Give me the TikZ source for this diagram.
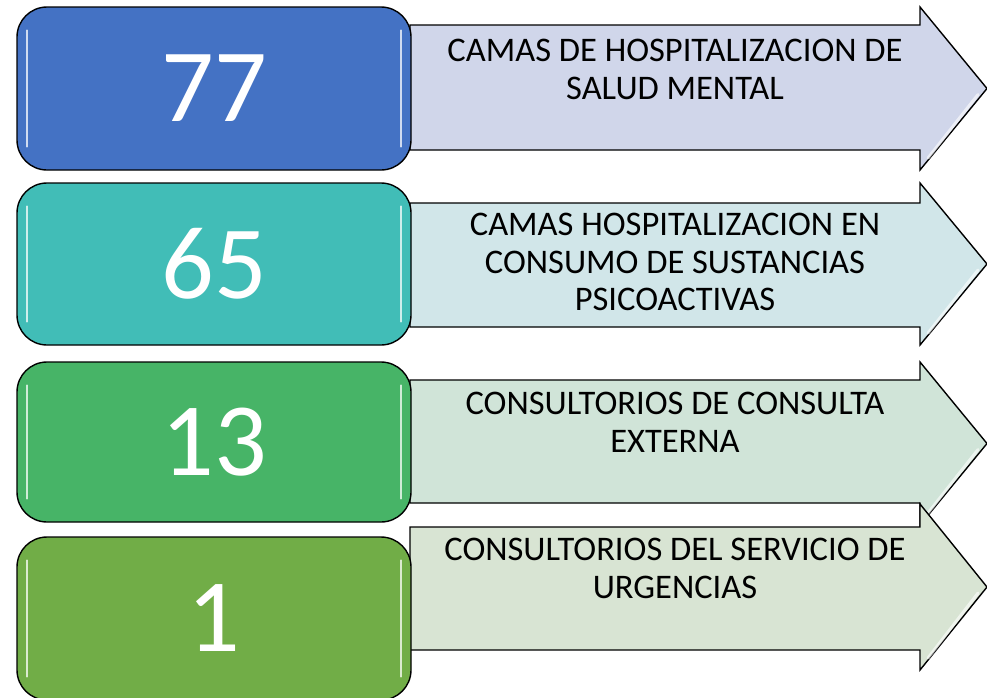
\documentclass[tikz,border=0pt]{standalone}
\usepackage{fontspec}
\setmainfont{Carlito}
\usetikzlibrary{calc}

\definecolor{box1}{HTML}{4472C4}
\definecolor{box2}{HTML}{41BDB7}
\definecolor{box3}{HTML}{47B467}
\definecolor{box4}{HTML}{71AD47}
\definecolor{arrow1}{HTML}{D0D6EA}
\definecolor{arrow2}{HTML}{D1E6E9}
\definecolor{arrow3}{HTML}{D0E4D8}
\definecolor{arrow4}{HTML}{D8E4D3}

\tikzset{
  numbox/.style={draw=black, line width=1.4pt, rounded corners=30pt,
    minimum width=394pt, inner sep=0pt, text=white,
    font=\fontsize{104}{110}\selectfont},
  arrowshape/.style={draw=black, line width=1.4pt, line join=miter},
  arrowtext/.style={anchor=north, align=center, inner sep=0pt,
    font=\fontsize{34.5}{37.5}\selectfont},
  gloss/.style={white, opacity=.75, line width=2pt, line cap=round},
}

\begin{document}
\begin{tikzpicture}[x=1pt, y=-1pt]
    \useasboundingbox (0,0) rectangle (987,697);

    \foreach \i/\num/\htop/\atop/\abot/\hbot/\btop/\bbot/\ttop/\txt in {
      1/77/7/25/150/170/7/170/39/{CAMAS DE HOSPITALIZACION DE\\SALUD MENTAL},
      2/65/183/203/327/345/183/345/213/{CAMAS HOSPITALIZACION EN\\CONSUMO DE SUSTANCIAS\\PSICOACTIVAS},
      3/13/362/380/503/525/362/522/392/{CONSULTORIOS DE CONSULTA\\EXTERNA},
      4/1/504/527/650/670/537/700/538/{CONSULTORIOS DEL SERVICIO DE\\URGENCIAS}}{
      % arrow behind the number
      \draw[arrowshape, fill=arrow\i]
      (410,\atop) -- (920,\atop) -- (920,\htop)
      -- (987,{(\htop+\hbot)/2}) -- (920,\hbot)
      -- (920,\abot) -- (410,\abot) -- cycle;
      \draw[gloss, opacity=.6, line width=3pt]
      (928,\hbot-12) -- (978,{(\htop+\hbot)/2+6});
      \node[arrowtext] (txt\i) at (675,\ttop) {\txt};

      % number box
      \node[numbox, fill=box\i, minimum height={\bbot-\btop}]
      (num\i) at (214,{(\btop+\bbot)/2}) {\num};
      \draw[gloss] ($(num\i.north west)+(11,24)$) --
      ($(num\i.south west)+(11,-24)$);
      \draw[gloss] ($(num\i.north east)+(-11,24)$) --
      ($(num\i.south east)+(-11,-24)$);
    }
\end{tikzpicture}
\end{document}
